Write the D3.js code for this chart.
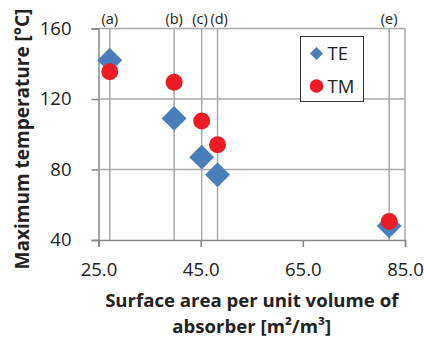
<!DOCTYPE html>
<html>
<head>
<meta charset="utf-8">
<script src="https://cdn.jsdelivr.net/npm/d3@7"></script>
<style>
  body { margin: 0; background: #fff; }
  svg { display: block; font-family: "Open Sans", sans-serif; }
</style>
</head>
<body>
<svg id="chart"></svg>
<script>
// sample positions (surface area per unit volume) and their labels
const caseLabels = ['(a)', '(b)', '(c)', '(d)', '(e)'];
const surfaceArea = [27.2, 39.8, 45.2, 48.3, 81.9];
// maximum temperature for each series
const teValues = [142, 109, 87, 77, 48];
const tmValues = [135.5, 129.5, 107.5, 94, 50.5];
const xTicks = [25, 45, 65, 85];
const yTicks = [40, 80, 120, 160];
const seriesNames = ['TE', 'TM'];

const W = 424, H = 337;
const margin = { top: 28.5, left: 98.5, right: 19, bottom: 97 };
const width = W - margin.left - margin.right;
const height = H - margin.top - margin.bottom;

const svg = d3.select('#chart').attr('width', W).attr('height', H);
const chart = svg.append('g').attr('transform', `translate(${margin.left},${margin.top})`);

const x = d3.scaleLinear().domain([25, 85]).range([0, width]);
const y = d3.scaleLinear().domain([40, 160]).range([height, 0]);

const gridColor = '#a9a9a9';
const axisColor = '#868686';

// horizontal gridlines
chart.selectAll('.hgrid').data(yTicks.filter(d => d > 40)).enter()
  .append('line')
    .attr('x1', 0).attr('x2', width)
    .attr('y1', d => y(d)).attr('y2', d => y(d))
    .attr('stroke', gridColor).attr('stroke-width', 1.5);

// right border
chart.append('line')
  .attr('x1', width).attr('x2', width)
  .attr('y1', 0).attr('y2', height)
  .attr('stroke', gridColor).attr('stroke-width', 1.5);

// vertical lines for each case
chart.selectAll('.vline').data(surfaceArea).enter()
  .append('line')
    .attr('x1', d => x(d)).attr('x2', d => x(d))
    .attr('y1', 0).attr('y2', height)
    .attr('stroke', gridColor).attr('stroke-width', 1.5);

// (c) and (d) sit close together, nudge them apart a little
chart.selectAll('.caselabel').data(caseLabels).enter()
  .append('text')
    .attr('x', (d, i) => x(surfaceArea[i]))
    .attr('dx', (d, i) => i === 2 ? -1.6 : i === 3 ? 1.6 : 0)
    .attr('y', -5)
    .attr('text-anchor', 'middle')
    .attr('font-size', 14.5)
    .attr('fill', '#222')
    .text(d => d);

// axes
const xAxis = d3.axisBottom(x).tickValues(xTicks).tickFormat(d3.format('.1f')).tickSize(7).tickPadding(16);
const yAxis = d3.axisLeft(y).tickValues(yTicks).tickSize(7).tickPadding(20);

const xAxisG = chart.append('g').attr('transform', `translate(0,${height})`).call(xAxis);
const yAxisG = chart.append('g').call(yAxis);

[xAxisG, yAxisG].forEach(g => {
  g.select('.domain').attr('stroke', axisColor).attr('stroke-width', 1.5);
  g.selectAll('.tick line').attr('stroke', axisColor).attr('stroke-width', 1.5);
  g.selectAll('.tick text')
    .attr('font-family', '"Open Sans", sans-serif')
    .attr('font-size', 18.5)
    .attr('fill', '#222');
});

// markers
chart.selectAll('.te').data(teValues).enter()
  .append('rect')
    .attr('x', -8.8).attr('y', -8.8)
    .attr('width', 17.6).attr('height', 17.6)
    .attr('transform', (d, i) => `translate(${x(surfaceArea[i])},${y(d)}) rotate(45)`)
    .attr('fill', '#4a7ebb');

chart.selectAll('.tm').data(tmValues).enter()
  .append('circle')
    .attr('cx', (d, i) => x(surfaceArea[i]))
    .attr('cy', d => y(d))
    .attr('r', 8.5)
    .attr('fill', '#ed1c24');

// legend
const legend = svg.append('g').attr('transform', 'translate(300.5,36.5)');
legend.append('rect')
  .attr('width', 63).attr('height', 65)
  .attr('fill', '#fff').attr('stroke', '#333').attr('stroke-width', 1);
const legendItems = legend.selectAll('.item').data(seriesNames).enter()
  .append('g').attr('transform', (d, i) => `translate(16,${17 + i * 32.5})`);
legendItems.filter((d, i) => i === 0).append('rect')
  .attr('x', -4.6).attr('y', -4.6).attr('width', 9.2).attr('height', 9.2)
  .attr('transform', 'rotate(45)')
  .attr('fill', '#4a7ebb');
legendItems.filter((d, i) => i === 1).append('circle')
  .attr('r', 6.8).attr('fill', '#ed1c24');
legendItems.append('text')
  .attr('x', 11).attr('dy', '0.36em')
  .attr('font-size', 18.5)
  .attr('fill', '#222')
  .text(d => d);

// axis titles
svg.append('text')
  .attr('transform', 'translate(29,139) rotate(-90)')
  .attr('text-anchor', 'middle')
  .attr('font-size', 19)
  .attr('font-weight', 'bold')
  .attr('fill', '#222')
  .text('Maximum temperature [°C]');

const xTitle = svg.append('text')
  .attr('text-anchor', 'middle')
  .attr('font-size', 18.6)
  .attr('font-weight', 'bold')
  .attr('fill', '#222');
xTitle.append('tspan').attr('x', margin.left + width / 2).attr('y', 307).text('Surface area per unit volume of');
xTitle.append('tspan').attr('x', margin.left + width / 2).attr('y', 333).text('absorber [m²/m³]');
</script>
</body>
</html>
